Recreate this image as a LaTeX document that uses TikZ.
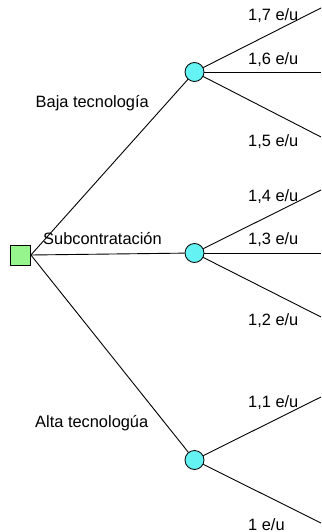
\documentclass[tikz,border=0pt]{standalone}
\usepackage{fontspec}
\setmainfont{Liberation Sans}
\begin{document}
\begin{tikzpicture}[x=1pt,y=-1pt,
  every node/.style={font=\fontsize{16.4}{18}\selectfont, inner sep=0pt},
  lbl/.style={anchor=base west},
  chance/.style={circle, draw, line width=0.8pt, fill={rgb,255:red,100;green,242;blue,242}, minimum size=19pt},
  decision/.style={rectangle, draw, line width=0.8pt, fill={rgb,255:red,150;green,245;blue,140}, minimum size=20pt},
  br/.style={line width=0.9pt}]
\useasboundingbox (0,0) rectangle (321,532);
\node[decision] (sq) at (20.5,255) {};
\node[chance] (c1) at (194.5,72) {};
\node[chance] (c2) at (194.5,253) {};
\node[chance] (c3) at (194.5,460) {};
\coordinate (e1) at (321,8);
\coordinate (e2) at (321,72);
\coordinate (e3) at (321,137);
\coordinate (e4) at (321,190);
\coordinate (e5) at (321,253);
\coordinate (e6) at (321,317);
\coordinate (e7) at (321,397);
\coordinate (e8) at (321,523);
\draw[br] (sq.east) -- (c1);
\draw[br] (sq.east) -- (c2);
\draw[br] (sq.east) -- (c3);
\draw[br] (c1) -- (e1);
\draw[br] (c1) -- (e2);
\draw[br] (c1) -- (e3);
\draw[br] (c2) -- (e4);
\draw[br] (c2) -- (e5);
\draw[br] (c2) -- (e6);
\draw[br] (c3) -- (e7);
\draw[br] (c3) -- (e8);
\node[lbl] (t1) at (35.5,108) {Baja tecnología};
\node[lbl] (t2) at (43,244) {Subcontratación};
\node[lbl] (t3) at (35,427) {Alta tecnologúa};
\node[lbl] (v1) at (248,21) {1,7 e/u};
\node[lbl] (v2) at (248,65) {1,6 e/u};
\node[lbl] (v3) at (248,146) {1,5 e/u};
\node[lbl] (v4) at (248,201) {1,4 e/u};
\node[lbl] (v5) at (248,244) {1,3 e/u};
\node[lbl] (v6) at (248,325) {1,2 e/u};
\node[lbl] (v7) at (248,407) {1,1 e/u};
\node[lbl] (v8) at (248,530) {1 e/u};
\end{tikzpicture}
\end{document}
